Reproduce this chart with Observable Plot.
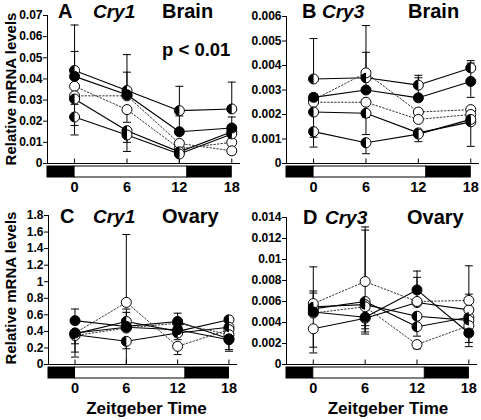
<!DOCTYPE html>
<html>
<head>
<meta charset="utf-8">
<script src="https://cdn.jsdelivr.net/npm/d3@7"></script>
<script src="https://cdn.jsdelivr.net/npm/@observablehq/plot@0.6"></script>
<style>
  body { margin: 0; background: #fff; }
  #fig { position: relative; width: 481px; height: 420px; background: #fff; overflow: hidden; }
  .panel { position: absolute; }
  #overlay { position: absolute; left: 0; top: 0; pointer-events: none; }
</style>
</head>
<body>
<div id="fig"></div>
<script>
// ---------- DATA ----------
const ZT = [0, 6, 12, 18];
const xTicks = [0, 6, 12, 18];
const phaseStart = [-3.1, 0, 12.9];
const phaseEnd = [0, 12.9, 18];
const phaseDark = [true, false, true];

const panelLetters = ["A", "B", "C", "D"];
const panelGenes = ["Cry1", "Cry3", "Cry1", "Cry3"];
const panelTissues = ["Brain", "Brain", "Ovary", "Ovary"];
const pValueText = "p < 0.01";
const yLabelText = "Relative mRNA levels";
const xLabelText = "Zeitgeber Time";

// Panel A: Cry1 brain
const A_yTicks = [0, 0.01, 0.02, 0.03, 0.04, 0.05, 0.06, 0.07];
const A_values = [
  [0.0440, 0.0345, 0.0250, 0.0258],
  [0.0412, 0.0325, 0.0150, 0.0168],
  [0.0365, 0.0255, 0.0070, 0.0100],
  [0.0320, 0.0320, 0.0095, 0.0060],
  [0.0305, 0.0155, 0.0055, 0.0150],
  [0.0220, 0.0135, 0.0045, 0.0140]
];
const A_dotted = [false, false, true, true, false, false];
const A_marker = ["half", "filled", "open", "open", "half", "half"];
const A_errZt = [0, 0, 0, 0, 0, 6, 6, 6, 6, 6, 12, 12, 12, 18, 18, 18];
const A_errLo = [0.044, 0.0412, 0.0135, 0.018, 0.028, 0.0345, 0.0325, 0.0057, 0.0195, 0.010, 0.025, 0.015, 0.0, 0.0258, 0.0168, 0.0045];
const A_errHi = [0.0655, 0.053, 0.022, 0.0305, 0.032, 0.0515, 0.0432, 0.0135, 0.0255, 0.0155, 0.0365, 0.0225, 0.0045, 0.0385, 0.022, 0.006];

// Panel B: Cry3 brain
const B_yTicks = [0, 0.001, 0.002, 0.003, 0.004, 0.005, 0.006];
const B_values = [
  [0.00345, 0.00350, 0.00320, 0.00390],
  [0.00270, 0.00300, 0.00268, 0.00335],
  [0.00260, 0.00370, 0.00210, 0.00220],
  [0.00250, 0.00250, 0.00180, 0.00200],
  [0.00210, 0.00205, 0.00125, 0.00170],
  [0.00130, 0.00085, 0.00120, 0.00180]
];
const B_dotted = [false, false, true, true, false, false];
const B_marker = ["half", "filled", "open", "open", "half", "half"];
const B_errZt = [0, 0, 0, 0, 6, 6, 6, 6, 6, 12, 12, 12, 18, 18, 18, 18];
const B_errLo = [0.00345, 0.0027, 0.00067, 0.00107, 0.0035, 0.0030, 0.00189, 0.0004, 0.00118, 0.0032, 0.00089, 0.00268, 0.0039, 0.00335, 0.0007, 0.0027];
const B_errHi = [0.0051, 0.00285, 0.0013, 0.0021, 0.00563, 0.00454, 0.00205, 0.00085, 0.0025, 0.0036, 0.0012, 0.0035, 0.0042, 0.0041, 0.0017, 0.0033];

// Panel C: Cry1 ovary
const C_yTicks = [0, 0.2, 0.4, 0.6, 0.8, 1, 1.2, 1.4, 1.6, 1.8];
const C_values = [
  [0.53, 0.46, 0.52, 0.31],
  [0.37, 0.52, 0.40, 0.54],
  [0.36, 0.28, 0.38, 0.45],
  [0.38, 0.75, 0.22, 0.42],
  [0.35, 0.44, 0.50, 0.36],
  [0.38, 0.45, 0.42, 0.30]
];
const C_dotted = [false, false, false, true, true, false];
const C_marker = ["filled", "half", "half", "open", "open", "filled"];
const C_errZt = [0, 0, 0, 0, 6, 6, 6, 6, 6, 12, 12, 12, 18, 18];
const C_errLo = [0.53, 0.09, 0.15, 0.25, 0.75, 0.0, 0.52, 0.45, 0.19, 0.52, 0.12, 0.30, 0.16, 0.18];
const C_errHi = [0.67, 0.35, 0.37, 0.38, 1.57, 0.28, 0.67, 0.63, 0.28, 0.62, 0.22, 0.40, 0.31, 0.36];

// Panel D: Cry3 ovary
const D_yTicks = [0, 0.002, 0.004, 0.006, 0.008, 0.01, 0.012, 0.014];
const D_values = [
  [0.0053, 0.0060, 0.0036, 0.0045],
  [0.0050, 0.0045, 0.0071, 0.0030],
  [0.0034, 0.0044, 0.0059, 0.0052],
  [0.0055, 0.0057, 0.0046, 0.0042],
  [0.0058, 0.0079, 0.0060, 0.0061],
  [0.0049, 0.0055, 0.0019, 0.0037]
];
const D_dotted = [false, false, false, false, true, true];
const D_marker = ["half", "filled", "open", "half", "open", "open"];
const D_errZt = [0, 0, 0, 0, 0, 6, 6, 6, 6, 6, 6, 12, 12, 12, 12, 18, 18, 18, 18];
const D_errLo = [0.0058, 0.0055, 0.0053, 0.0011, 0.00165, 0.0079, 0.0060, 0.0037, 0.0034, 0.0031, 0.0029, 0.0071, 0.0060, 0.0015, 0.0027, 0.0061, 0.0052, 0.0021, 0.0017];
const D_errHi = [0.0093, 0.0070, 0.0068, 0.0034, 0.0049, 0.0131, 0.0128, 0.0045, 0.0044, 0.0043, 0.0043, 0.0089, 0.0083, 0.0019, 0.0036, 0.0094, 0.0067, 0.0036, 0.0030];

// ---------- RENDER ----------
const FONT = '"Liberation Sans", Arial, Helvetica, sans-serif';
const X_DOMAIN = [phaseStart[0], 19];

const halfSymbol = { draw(ctx, size) { const r = Math.sqrt(size / Math.PI); ctx.moveTo(0, -r); ctx.arc(0, 0, r, -Math.PI / 2, Math.PI / 2, true); ctx.closePath(); } };
const capSymbol = { draw(ctx) { ctx.moveTo(-4, 0); ctx.lineTo(4, 0); } };
const tickUpSymbol = { draw(ctx) { ctx.moveTo(0, 0); ctx.lineTo(0, -5); } };

const fmt = d => String(Math.round(d * 1e6) / 1e6);

const panels = [
  { values: A_values, dotted: A_dotted, marker: A_marker, errZt: A_errZt, errLo: A_errLo, errHi: A_errHi, yTicks: A_yTicks,
    left: 0, top: 0, width: 240, height: 200, ml: 47, mr: 0, mt: 15, axisPx: 148 },
  { values: B_values, dotted: B_dotted, marker: B_marker, errZt: B_errZt, errLo: B_errLo, errHi: B_errHi, yTicks: B_yTicks,
    left: 240, top: 0, width: 241, height: 200, ml: 46, mr: 2, mt: 16, axisPx: 147 },
  { values: C_values, dotted: C_dotted, marker: C_marker, errZt: C_errZt, errLo: C_errLo, errHi: C_errHi, yTicks: C_yTicks,
    left: 0, top: 200, width: 240, height: 220, ml: 48, mr: 3, mt: 15, axisPx: 149 },
  { values: D_values, dotted: D_dotted, marker: D_marker, errZt: D_errZt, errLo: D_errLo, errHi: D_errHi, yTicks: D_yTicks,
    left: 240, top: 200, width: 241, height: 220, ml: 46, mr: 4, mt: 17, axisPx: 147 }
];

const fig = document.getElementById("fig");
const phases = phaseStart.map((s, i) => ({ start: s, end: phaseEnd[i], dark: phaseDark[i] }));

panels.forEach(p => {
  const rows = [];
  p.values.forEach((vals, s) => vals.forEach((v, j) => rows.push({ series: s, zt: ZT[j], v, dotted: p.dotted[s], marker: p.marker[s] })));
  const errs = p.errZt.map((z, i) => ({ zt: z, lo: p.errLo[i], hi: p.errHi[i] }));
  const caps = errs.flatMap(e => [{ zt: e.zt, v: e.lo }, { zt: e.zt, v: e.hi }]);
  const yMax = d3.max(p.yTicks);
  const perPx = yMax / p.axisPx;
  const barTop = -3 * perPx;
  const barBottom = -14 * perPx;
  const mb = p.height - p.mt - p.axisPx - 14;

  const svg = Plot.plot({
    width: p.width, height: p.height,
    marginTop: p.mt, marginBottom: mb, marginLeft: p.ml, marginRight: p.mr,
    x: { domain: X_DOMAIN },
    y: { domain: [barBottom, yMax] },
    style: { fontFamily: FONT, background: "transparent", overflow: "visible", color: "black" },
    marks: [
      Plot.rect(phases.filter(d => d.dark), { x1: "start", x2: "end", y1: barTop, y2: barBottom, fill: "black", stroke: "black", strokeWidth: 1 }),
      Plot.rect(phases.filter(d => !d.dark), { x1: "start", x2: "end", y1: barTop, y2: barBottom, fill: "white", stroke: "black", strokeWidth: 1 }),
      Plot.ruleY([0], { stroke: "black", strokeWidth: 1 }),
      Plot.ruleX([X_DOMAIN[0]], { y1: 0, y2: yMax, stroke: "black", strokeWidth: 1 }),
      Plot.dot(xTicks, { x: d => d, y: 0, symbol: tickUpSymbol, r: 3, fill: "none", stroke: "black", strokeWidth: 1 }),
      Plot.axisY(p.yTicks, { anchor: "left", tickSize: 4, tickPadding: 1, fontSize: 12, fontWeight: "bold", tickFormat: fmt, stroke: "black" }),
      Plot.axisX(xTicks, { anchor: "bottom", tickSize: 0, tickPadding: 4, fontSize: 14.5, fontWeight: "bold", tickFormat: fmt }),
      Plot.ruleX(errs, { x: "zt", y1: "lo", y2: "hi", stroke: "black", strokeWidth: 1 }),
      Plot.dot(caps, { x: "zt", y: "v", symbol: capSymbol, r: 3, fill: "none", stroke: "black", strokeWidth: 1 }),
      Plot.line(rows.filter(d => !d.dotted), { x: "zt", y: "v", z: "series", stroke: "black", strokeWidth: 1.1 }),
      Plot.line(rows.filter(d => d.dotted), { x: "zt", y: "v", z: "series", stroke: "#333", strokeWidth: 1, strokeDasharray: "1.5,2" }),
      Plot.dot(rows.filter(d => d.marker !== "filled"), { x: "zt", y: "v", r: 5, fill: "white", stroke: "black", strokeWidth: 1 }),
      Plot.dot(rows.filter(d => d.marker === "half"), { x: "zt", y: "v", r: 5, symbol: halfSymbol, fill: "black" }),
      Plot.dot(rows.filter(d => d.marker === "filled"), { x: "zt", y: "v", r: 5, fill: "black", stroke: "black", strokeWidth: 1 })
    ]
  });
  const div = document.createElement("div");
  div.className = "panel";
  div.style.left = p.left + "px";
  div.style.top = p.top + "px";
  div.appendChild(svg);
  fig.appendChild(div);
});

// ---------- TEXT OVERLAY ----------
const overlay = d3.select(fig).append("svg").attr("id", "overlay")
  .attr("width", 481).attr("height", 420)
  .style("font-family", FONT).style("font-weight", "bold");

const letterX = [58, 302, 60, 303];
const geneX = [93, 322, 93, 325];
const tissueX = [162, 408, 162, 407];
const titleY = [18, 18, 222.5, 223.5];

panelLetters.forEach((L, i) => {
  overlay.append("text").attr("x", letterX[i]).attr("y", titleY[i]).attr("font-size", 20).text(L);
  overlay.append("text").attr("x", geneX[i]).attr("y", titleY[i]).attr("font-size", 19).attr("font-style", "italic").text(panelGenes[i]);
  overlay.append("text").attr("x", tissueX[i]).attr("y", titleY[i]).attr("font-size", 20).text(panelTissues[i]);
});
overlay.append("text").attr("x", 162).attr("y", 56).attr("font-size", 18.5).text(pValueText);

[89, 288].forEach(cy => {
  overlay.append("text").attr("transform", `translate(16,${cy}) rotate(-90)`)
    .attr("text-anchor", "middle").attr("font-size", 15).text(yLabelText);
});
[146.5, 388].forEach(cx => {
  overlay.append("text").attr("x", cx).attr("y", 414).attr("text-anchor", "middle").attr("font-size", 17).text(xLabelText);
});
</script>
</body>
</html>
